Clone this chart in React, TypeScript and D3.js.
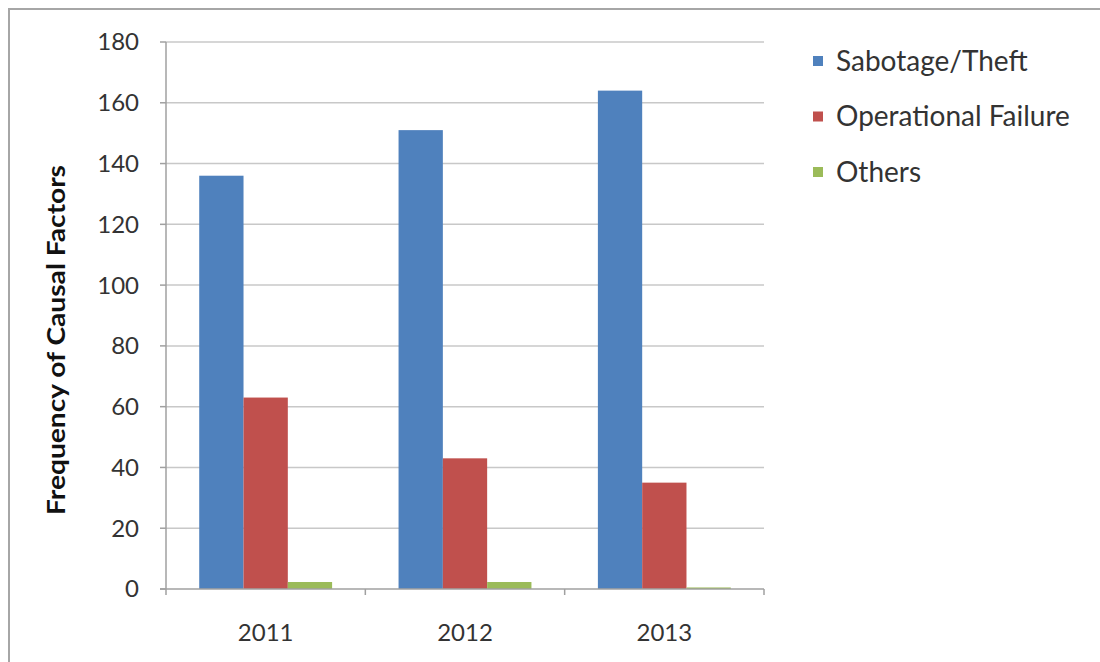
import React from "react";
import * as d3 from "d3";

const years = ["2011", "2012", "2013"];
const seriesNames = ["Sabotage/Theft", "Operational Failure", "Others"];
const sabotage = [136, 151, 164];
const operational = [63, 43, 35];
const others = [2.3, 2.3, 0.5];
const yTicks = [0, 20, 40, 60, 80, 100, 120, 140, 160, 180];
const colors = ["#4F81BD", "#C0504D", "#9BBB59"];

const W = 1100;
const H = 662;
const FONT = "Lato, 'Open Sans', sans-serif";

export default function App() {
  const series = [sabotage, operational, others];
  const x = d3.scaleBand<string>().domain(years).range([166, 764]).paddingInner(0).paddingOuter(0);
  const inner = d3
    .scaleBand<number>()
    .domain([0, 1, 2])
    .range([0, x.bandwidth()])
    .paddingInner(0)
    .paddingOuter(0.75);
  const y = d3.scaleLinear().domain([0, 180]).range([589, 42]);
  const boundaries = [...years.map((d) => x(d) as number), 764];

  return (
    <svg
      width={W}
      height={H}
      style={{ position: "absolute", left: 0, top: 0, background: "#fff" }}
      fontFamily={FONT}
    >
      <rect x={0} y={0} width={W} height={H} fill="#fff" />
      {/* outer border */}
      <line x1={9} y1={8} x2={9} y2={H} stroke="#a6a6a6" strokeWidth={2} />
      <line x1={8} y1={9} x2={W} y2={9} stroke="#a6a6a6" strokeWidth={2} />

      {/* gridlines */}
      {yTicks.map((t) =>
        t === 0 ? null : (
          <line key={"g" + t} x1={166} x2={764} y1={y(t)} y2={y(t)} stroke="#c8c8c8" strokeWidth={1.5} />
        )
      )}
      {/* y axis */}
      <line x1={166} x2={166} y1={y(180)} y2={y(0)} stroke="#a0a0a0" strokeWidth={1.5} />
      {yTicks.map((t) => (
        <g key={"t" + t}>
          <line x1={160} x2={166} y1={y(t)} y2={y(t)} stroke="#a0a0a0" strokeWidth={1.5} />
          <text x={139} y={y(t)} dy="0.35em" textAnchor="end" fontSize={24} fill="#333">
            {t}
          </text>
        </g>
      ))}

      {/* bars */}
      {years.map((yr, i) => (
        <g key={yr} transform={`translate(${x(yr)},0)`}>
          {series.map((s, j) => (
            <rect
              key={j}
              x={inner(j)}
              y={y(s[i])}
              width={inner.bandwidth()}
              height={y(0) - y(s[i])}
              fill={colors[j]}
            />
          ))}
        </g>
      ))}

      {/* x axis */}
      <line x1={160} x2={764} y1={y(0)} y2={y(0)} stroke="#a0a0a0" strokeWidth={1.5} />
      {boundaries.map((b, i) => (
        <line key={"xb" + i} x1={b} x2={b} y1={y(0)} y2={y(0) + 6} stroke="#a0a0a0" strokeWidth={1.5} />
      ))}
      {years.map((yr) => (
        <text
          key={"xl" + yr}
          x={(x(yr) as number) + x.bandwidth() / 2}
          y={641}
          textAnchor="middle"
          fontSize={24}
          fill="#333"
        >
          {yr}
        </text>
      ))}

      {/* y title */}
      <text
        transform={`translate(65, 340) rotate(-90)`}
        textAnchor="middle"
        fontSize={24}
        fontWeight="bold"
        fill="#111"
        textLength={350}
        lengthAdjust="spacingAndGlyphs"
      >
        Frequency of Causal Factors
      </text>

      {/* legend */}
      {seriesNames.map((n, j) => (
        <g key={n} transform={`translate(813, ${61 + j * 55.5})`}>
          <rect x={0} y={-5} width={10} height={10} fill={colors[j]} />
          <text x={23} y={0} dy="0.35em" fontSize={28} fill="#333">
            {n}
          </text>
        </g>
      ))}
    </svg>
  );
}
